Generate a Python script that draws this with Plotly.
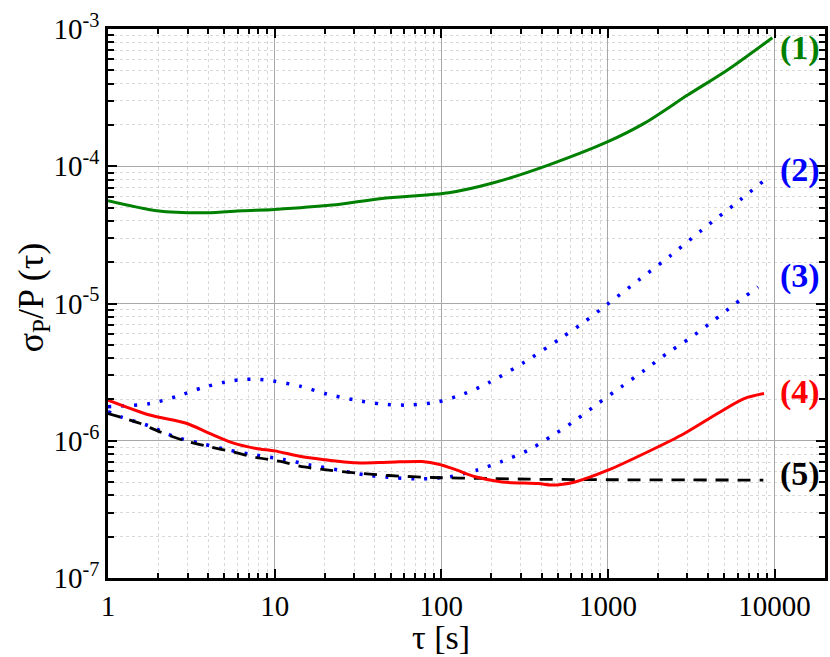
import plotly.graph_objects as go

# ---- data ----
tau1 = [1, 1.96, 3.89, 6.41, 10, 22.1, 44, 111, 201, 439, 1000, 1660, 3010, 5220, 9700]
sig1 = [5.60e-5, 4.74e-5, 4.58e-5, 4.74e-5, 4.85e-5, 5.21e-5, 5.83e-5, 6.41e-5, 7.51e-5,
        1.02e-4, 1.51e-4, 2.06e-4, 3.30e-4, 5.03e-4, 8.64e-4]

tau2 = [1, 1.80, 2.60, 3.75, 5.49, 6.65, 8.02, 9.72, 14.2, 20.6, 30.3, 44.2, 64.4, 95.2,
        136, 192, 318, 520, 710, 978, 1528, 2393, 3667, 5780, 9140]
sig2 = [1.77e-6, 1.87e-6, 2.11e-6, 2.45e-6, 2.73e-6, 2.80e-6, 2.80e-6, 2.73e-6, 2.50e-6,
        2.19e-6, 1.98e-6, 1.85e-6, 1.82e-6, 1.92e-6, 2.19e-6, 2.64e-6, 3.76e-6, 5.57e-6,
        7.23e-6, 9.73e-6, 1.48e-5, 2.25e-5, 3.43e-5, 5.30e-5, 8.29e-5]

tau3 = [1, 1.22, 1.77, 2.51, 3.63, 5.36, 7.74, 11.3, 16.5, 24.4, 35.7, 52.5, 76.7, 112,
        163, 233, 333, 459, 639, 873, 1203, 1660, 2265, 3126, 4290, 5780, 7960]
sig3 = [1.63e-6, 1.48e-6, 1.28e-6, 1.07e-6, 9.54e-7, 8.53e-7, 7.85e-7, 7.31e-7, 6.64e-7,
        6.10e-7, 5.61e-7, 5.37e-7, 5.28e-7, 5.46e-7, 6.10e-7, 7.10e-7, 8.53e-7, 1.08e-6,
        1.41e-6, 1.87e-6, 2.47e-6, 3.27e-6, 4.33e-6, 5.62e-6, 7.48e-6, 9.91e-6, 1.32e-5]

tau4 = [1, 1.78, 2.95, 4.07, 5.61, 7.74, 10, 14.1, 19.4, 30.7, 48.5, 76.7, 96.5, 121,
        160, 231, 382, 459, 634, 1000, 1816, 2877, 4550, 6570, 8650]
sig4 = [1.98e-6, 1.54e-6, 1.34e-6, 1.13e-6, 9.65e-7, 8.79e-7, 8.44e-7, 7.72e-7, 7.31e-7,
        6.90e-7, 6.98e-7, 7.06e-7, 6.75e-7, 6.18e-7, 5.46e-7, 5.01e-7, 4.88e-7, 4.75e-7,
        5.01e-7, 6.10e-7, 8.53e-7, 1.13e-6, 1.58e-6, 2.03e-6, 2.21e-6]

tau5 = [1, 1.55, 2.05, 2.82, 4.07, 5.61, 7.74, 11.2, 14.1, 19.4, 30.7, 48.5, 88, 192,
        333, 1000, 8570]
sig5 = [1.58e-6, 1.34e-6, 1.16e-6, 1.01e-6, 9.03e-7, 8.30e-7, 7.55e-7, 7.02e-7, 6.53e-7,
        6.18e-7, 5.83e-7, 5.58e-7, 5.40e-7, 5.31e-7, 5.25e-7, 5.20e-7, 5.17e-7]

curve_labels = ["(1)", "(2)", "(3)", "(4)", "(5)"]
curve_colors = ["#008000", "#0000ff", "#0000ff", "#ff0000", "#000000"]

x_tickvals = [1, 10, 100, 1000, 10000]
x_ticktext = ["1", "10", "100", "1000", "10000"]
y_tickvals = [1e-7, 1e-6, 1e-5, 1e-4, 1e-3]
y_ticktext = ["10<sup>-7</sup>", "10<sup>-6</sup>", "10<sup>-5</sup>", "10<sup>-4</sup>", "10<sup>-3</sup>"]

x_minor = [m * 10 ** d for d in range(0, 4) for m in range(2, 10)]
y_minor = [m * 10.0 ** d for d in range(-7, -3) for m in range(2, 10)]

FONT = "Liberation Serif"

fig = go.Figure()
series = [
    (tau1, sig1, dict(color=curve_colors[0], width=3)),
    (tau2, sig2, dict(color=curve_colors[1], width=3.5, dash="3px,10px")),
    (tau3, sig3, dict(color=curve_colors[2], width=3.5, dash="3px,10px")),
    (tau5, sig5, dict(color=curve_colors[4], width=2.8, dash="13px,9px")),
    (tau4, sig4, dict(color=curve_colors[3], width=3)),
]
for tx, sy, ln in series:
    fig.add_trace(go.Scatter(x=tx, y=sy, mode="lines", line=dict(shape="spline", smoothing=0.8, **ln),
                             showlegend=False, hoverinfo="skip"))

label_y = [0.9654, 0.743, 0.550, 0.339, 0.189]
for lab, col, ly in zip(curve_labels, curve_colors, label_y):
    fig.add_annotation(text="<b>" + lab + "</b>", xref="paper", yref="paper", x=0.934, y=ly,
                       xanchor="left", yanchor="middle", showarrow=False,
                       font=dict(family=FONT, size=34, color=col))

fig.add_annotation(text="τ [s]", xref="paper", yref="paper", x=0.464, y=-0.108,
                   xanchor="center", yanchor="middle", showarrow=False,
                   font=dict(family=FONT, size=34, color="black"))
fig.add_annotation(text="σ<sub>P</sub>/P (τ)", xref="paper", yref="paper", x=-0.104, y=0.512,
                   xanchor="center", yanchor="middle", showarrow=False, textangle=-90,
                   font=dict(family=FONT, size=36, color="black"))

axis_common = dict(
    type="log", showline=True, linecolor="black", linewidth=2.5, mirror="ticks",
    ticks="inside", ticklen=9, tickwidth=2, tickcolor="black",
    showgrid=True, gridcolor="#a8a8a8", gridwidth=1.3, zeroline=False,
    tickfont=dict(family=FONT, size=29, color="black"), tickmode="array",
)
fig.update_xaxes(range=[0, 4.303], tickvals=x_tickvals, ticktext=x_ticktext,
                 minor=dict(tickmode="array", tickvals=x_minor, ticks="inside", ticklen=5,
                            tickwidth=2, tickcolor="black", showgrid=True,
                            gridcolor="#d8d8d8", griddash="dot", gridwidth=1),
                 **axis_common)
fig.update_yaxes(range=[-7, -3], tickvals=y_tickvals, ticktext=y_ticktext,
                 minor=dict(tickmode="array", tickvals=y_minor, ticks="inside", ticklen=6,
                            tickwidth=2, tickcolor="black", showgrid=True,
                            gridcolor="#d8d8d8", griddash="dot", gridwidth=1),
                 **axis_common)

fig.update_layout(width=830, height=657, margin=dict(l=108, r=2, t=29, b=79, pad=0),
                  plot_bgcolor="white", paper_bgcolor="white", showlegend=False)

fig.write_html("out.html", config={"displayModeBar": False},
               post_script="document.body.style.margin='0';document.body.style.overflow='hidden';")
